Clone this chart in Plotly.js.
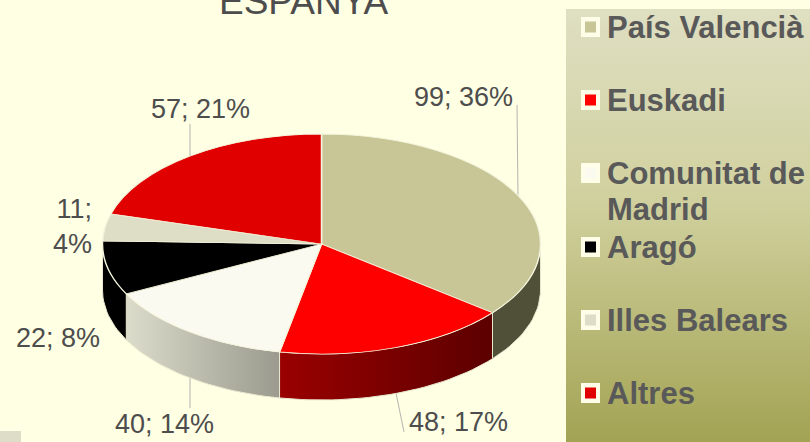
<!DOCTYPE html>
<html>
<head>
<meta charset="utf-8">
<script src="https://cdn.plot.ly/plotly-3.0.1.min.js"></script>
<style>html,body{margin:0;padding:0;background:#ffffe3;overflow:hidden}#c{width:810px;height:442px}</style>
</head>
<body>
<div id="c"></div>
<script>
const categories = ["País Valencià", "Euskadi", "Comunitat de<br>Madrid", "Aragó", "Illes Balears", "Altres"];
const values = [99, 48, 40, 22, 11, 57];
const sliceColors = ["#c8c696", "#ff0000", "#fafaf0", "#000000", "#deddc6", "#e00000"];
const wallGradients = [
  ["#505038", "#505038"],
  ["#9a0000", "#5c0000"],
  ["#dcdccb", "#9a9a8e"],
  ["#000000", "#000000"],
  ["#8a8a78", "#8a8a78"],
  ["#800000", "#800000"]
];
const legendRows = [27, 100, 173, 247, 320, 393];
const labelPos = [[463, 97], [458, 422], [164, 424], [58, 338], [94, 226], [200, 109]];
const leaders = [[517, 105, 518, 198], [396, 393, 404, 432], [190, 378, 190, 408], [190, 124, 190, 157]];

const CX = 321.5, CY = 244, RX = 219, RY = 110, DEPTH = 46;
const W = 810, H = 442;
const total = values.reduce((a, b) => a + b, 0);
const rad = d => d * Math.PI / 180;

const traces = [];

// Legend panel
traces.push({
  type: "scatter", mode: "lines", x: [566, 810, 810, 566, 566], y: [9, 9, 442, 442, 9],
  fill: "toself", line: { width: 0 }, hoverinfo: "skip", showlegend: false,
  fillgradient: { type: "vertical", colorscale: [[0, "#a3a354"], [0.55, "#d0d09e"], [1, "#dfdfc2"]] }
});
// Bottom-left patch
traces.push({
  type: "scatter", mode: "lines", x: [0, 21, 21, 0, 0], y: [431, 431, 442, 442, 431],
  fill: "toself", line: { width: 0 }, fillcolor: "#dedec8", hoverinfo: "skip", showlegend: false
});

// Side walls from the slice angles (front half only)
let start = 0;
values.forEach((v, i) => {
  const a0 = start, a1 = start + v / total * 360;
  start = a1;
  const lo = Math.max(a0, 90), hi = Math.min(a1, 270);
  if (hi <= lo) return;
  const xs = [], ys = [];
  const n = Math.ceil((hi - lo) / 2);
  for (let k = 0; k <= n; k++) {
    const t = rad(lo + (hi - lo) * k / n);
    xs.push(CX + RX * Math.sin(t)); ys.push(CY - RY * Math.cos(t));
  }
  for (let k = n; k >= 0; k--) {
    const t = rad(lo + (hi - lo) * k / n);
    xs.push(CX + RX * Math.sin(t)); ys.push(CY - RY * Math.cos(t) + DEPTH);
  }
  xs.push(xs[0]); ys.push(ys[0]);
  const g = wallGradients[i];
  traces.push({
    type: "scatter", mode: "lines", x: xs, y: ys, fill: "toself",
    line: { color: "#e8e8d0", width: 1 }, hoverinfo: "skip", showlegend: false,
    fillgradient: { type: "horizontal", colorscale: [[0, g[0]], [1, g[1]]] }
  });
});

// Top face
traces.push({
  type: "pie", labels: categories, values: values, sort: false, direction: "clockwise", rotation: 0,
  textinfo: "none", hoverinfo: "label+value+percent", showlegend: false,
  marker: { colors: sliceColors, line: { color: "#f4f4dc", width: 1.5 } },
  domain: { x: [(CX - RX) / W, (CX + RX) / W], y: [0.5 - RX / H, 0.5 + RX / H] }
});

const annotations = [];
const shapes = [];
const labelFont = { family: "Liberation Sans, Arial, sans-serif", size: 27, color: "#4d4d4d" };
const legendFont = { family: "Liberation Sans, Arial, sans-serif", size: 31, color: "#595959" };

annotations.push({ xref: "x", yref: "y", x: 304, y: 0, yshift: -1, text: "ESPANYA", showarrow: false, xanchor: "center", yanchor: "middle", font: { family: "Liberation Sans, Arial, sans-serif", size: 37, color: "#4d4d4d" } });

values.forEach((v, i) => {
  const pct = Math.round(v / total * 100) + "%";
  const narrow = v === 11;
  annotations.push({
    xref: "x", yref: "y", x: labelPos[i][0], y: labelPos[i][1],
    text: narrow ? v + ";<br>" + pct : v + "; " + pct,
    showarrow: false, xanchor: narrow ? "right" : "center", yanchor: "middle", align: narrow ? "right" : "center",
    font: labelFont
  });
  const yc = legendRows[i];
  shapes.push({ type: "rect", xref: "x", yref: "y", x0: 581, x1: 600, y0: yc - 10, y1: yc + 10, fillcolor: "#fdfde8", line: { width: 0 }, layer: "above" });
  shapes.push({ type: "rect", xref: "x", yref: "y", x0: 585, x1: 596, y0: yc - 5.5, y1: yc + 5.5, fillcolor: sliceColors[i], line: { width: 0 }, layer: "above" });
  categories[i].split("<br>").forEach((line, j) => {
    annotations.push({
      xref: "x", yref: "y", x: 605, y: yc + j * 36, text: "<b>" + line + "</b>", showarrow: false,
      xanchor: "left", yanchor: "middle", align: "left", font: legendFont
    });
  });
});
leaders.forEach(l => shapes.push({ type: "line", xref: "x", yref: "y", x0: l[0], y0: l[1], x1: l[2], y1: l[3], line: { color: "#b4b4b0", width: 1 }, layer: "below" }));

const layout = {
  width: W, height: H, margin: { l: 0, r: 0, t: 0, b: 0 },
  paper_bgcolor: "#ffffe3", plot_bgcolor: "rgba(0,0,0,0)", showlegend: false,
  xaxis: { range: [0, W], visible: false, fixedrange: true },
  yaxis: { range: [H, 0], visible: false, fixedrange: true },
  annotations, shapes
};
Plotly.newPlot("c", traces, layout, { displayModeBar: false, staticPlot: true }).then(gd => {
  const pl = gd.querySelector(".pielayer");
  pl.setAttribute("transform", `translate(0,${CY}) scale(1,${RY / RX}) translate(0,${-H / 2})`);
});
</script>
</body>
</html>
